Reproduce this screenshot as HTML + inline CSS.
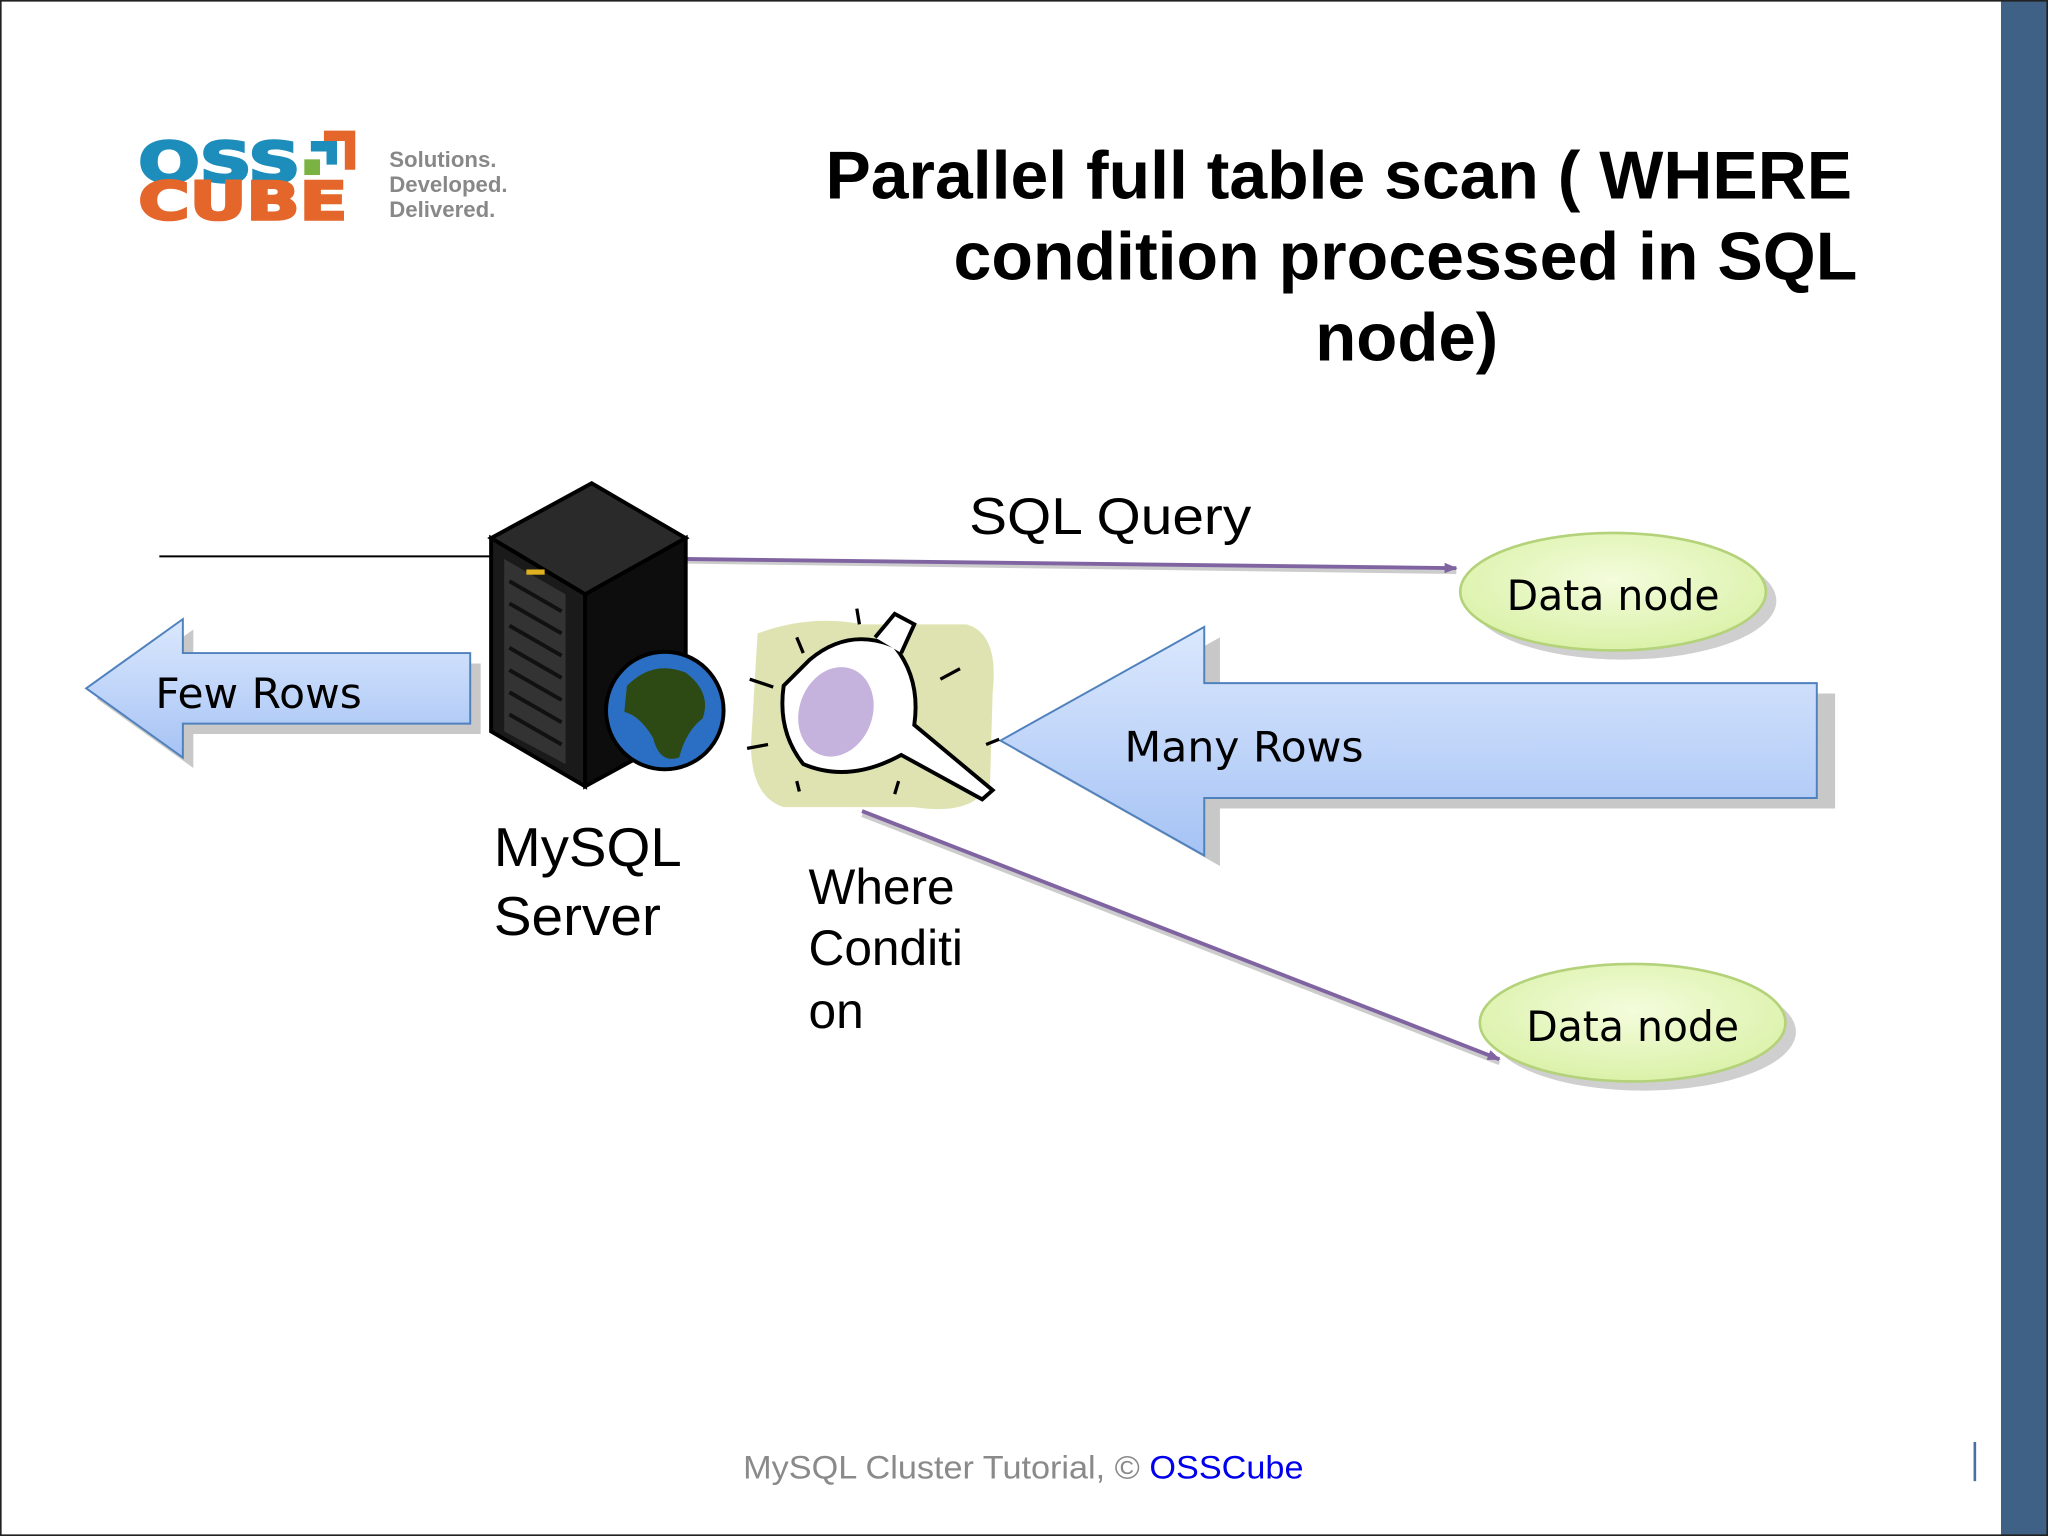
<!DOCTYPE html>
<html><head><meta charset="utf-8"><style>html,body{margin:0;padding:0;background:#fff}svg{display:block}</style></head><body>
<svg width="2048" height="1536" viewBox="0 0 1568 1176" xmlns="http://www.w3.org/2000/svg" font-family="Liberation Sans, sans-serif">
<defs>
<linearGradient id="bl" x1="0" y1="0" x2="0" y2="1"><stop offset="0" stop-color="#dbe8fd"/><stop offset="1" stop-color="#a6c3f5"/></linearGradient>
<radialGradient id="gr" cx="0.5" cy="0.4" r="0.7"><stop offset="0" stop-color="#f4fcdc"/><stop offset="1" stop-color="#d6f0a0"/></radialGradient>
<marker id="ah" markerWidth="10" markerHeight="8" refX="9" refY="4" orient="auto" markerUnits="userSpaceOnUse"><path d="M0,0 L10,4 L0,8 z" fill="#8064a2"/></marker>
</defs>
<rect x="0" y="0" width="1568" height="1176" fill="#fff"/>
<rect x="1532" y="0" width="36" height="1176" fill="#3f6186"/>
<rect x="0.5" y="0.5" width="1567" height="1175" fill="none" stroke="#222" stroke-width="1.5"/>
<!-- logo -->
<g font-family="DejaVu Sans, sans-serif" font-weight="bold">
<text x="106" y="139" font-size="42" fill="#1d8dbb" textLength="124" lengthAdjust="spacingAndGlyphs" stroke="#1d8dbb" stroke-width="2">OSS</text>
<text x="106" y="168" font-size="40" fill="#e5662a" textLength="160" lengthAdjust="spacingAndGlyphs" stroke="#e5662a" stroke-width="2">CUBE</text>
</g>
<rect x="233" y="122" width="12" height="12" fill="#7bb342"/>
<path d="M238 108 h20 v18 h-8 v-10 h-12z" fill="#1d8dbb"/>
<path d="M248 100 h24 v30 h-8 v-22 h-16z" fill="#e5662a"/>
<g font-size="17" fill="#888" font-weight="bold"><text x="298" y="128">Solutions.</text><text x="298" y="147">Developed.</text><text x="298" y="166">Delivered.</text></g>
<!-- title -->
<g font-size="52" font-weight="bold" fill="#000">
<text x="632" y="152" textLength="786" lengthAdjust="spacingAndGlyphs">Parallel full table scan ( WHERE</text>
<text x="730" y="214" textLength="692" lengthAdjust="spacingAndGlyphs">condition processed in SQL</text>
<text x="1007" y="276" textLength="140" lengthAdjust="spacingAndGlyphs">node)</text>
</g>
<!-- lines -->
<line x1="122" y1="426" x2="380" y2="426" stroke="#000" stroke-width="1.5"/>
<line x1="525" y1="430" x2="1115" y2="438" stroke="#ccc" stroke-width="3"/>
<line x1="525" y1="428" x2="1115" y2="435" stroke="#8064a2" stroke-width="3" marker-end="url(#ah)"/>
<line x1="660" y1="624" x2="1148" y2="814" stroke="#ccc" stroke-width="3"/>
<line x1="660" y1="621" x2="1148" y2="811" stroke="#8064a2" stroke-width="3" marker-end="url(#ah)"/>
<!-- Few rows arrow -->
<polygon points="74,535 148,482 148,508 368,508 368,562 148,562 148,588" fill="#c8c8c8"/>
<polygon points="66,527 140,474 140,500 360,500 360,554 140,554 140,580" fill="url(#bl)" stroke="#4f81bd" stroke-width="1.5"/>
<text x="119" y="542" font-family="DejaVu Sans, sans-serif" font-size="32" fill="#000" textLength="158" lengthAdjust="spacingAndGlyphs">Few Rows</text>
<!-- Many rows arrow -->
<polygon points="778,575 934,488 934,531 1405,531 1405,619 934,619 934,663" fill="#c8c8c8"/>
<polygon points="766,567 922,480 922,523 1391,523 1391,611 922,611 922,655" fill="url(#bl)" stroke="#4f81bd" stroke-width="1.5"/>
<text x="861" y="583" font-family="DejaVu Sans, sans-serif" font-size="32" fill="#000" textLength="183" lengthAdjust="spacingAndGlyphs">Many Rows</text>
<!-- data nodes -->
<ellipse cx="1243" cy="460" rx="117" ry="45" fill="#cfcfcf"/>
<ellipse cx="1235" cy="453" rx="117" ry="45" fill="url(#gr)" stroke="#b3d27a" stroke-width="2"/>
<text x="1235" y="467" text-anchor="middle" font-family="DejaVu Sans, sans-serif" font-size="32" textLength="163" lengthAdjust="spacingAndGlyphs">Data node</text>
<ellipse cx="1258" cy="790" rx="117" ry="45" fill="#cfcfcf"/>
<ellipse cx="1250" cy="783" rx="117" ry="45" fill="url(#gr)" stroke="#b3d27a" stroke-width="2"/>
<text x="1250" y="797" text-anchor="middle" font-family="DejaVu Sans, sans-serif" font-size="32" textLength="163" lengthAdjust="spacingAndGlyphs">Data node</text>
<!-- server -->
<polygon points="376,412 453,370 525,412 448,455" fill="#2a2a2a" stroke="#000" stroke-width="3"/>
<polygon points="376,412 448,455 448,602 376,560" fill="#1a1a1a" stroke="#000" stroke-width="3"/>
<polygon points="448,455 525,412 525,560 448,602" fill="#0d0d0d" stroke="#000" stroke-width="3"/>
<polygon points="386,428 433,455 433,585 386,560" fill="#333"/>
<g stroke="#111" stroke-width="3">
<line x1="390" y1="445" x2="430" y2="468"/><line x1="390" y1="462" x2="430" y2="485"/><line x1="390" y1="479" x2="430" y2="502"/><line x1="390" y1="496" x2="430" y2="519"/><line x1="390" y1="513" x2="430" y2="536"/><line x1="390" y1="530" x2="430" y2="553"/><line x1="390" y1="547" x2="430" y2="570"/>
</g>
<rect x="403" y="436" width="14" height="4" fill="#e0b020"/>
<circle cx="509" cy="544" r="45" fill="#2a6fc4" stroke="#000" stroke-width="3"/>
<path d="M480 525 Q500 505 525 515 Q545 530 538 550 Q525 560 520 580 Q505 585 500 565 Q490 548 478 545 Z" fill="#2e4a14"/>
<!-- funnel clipart -->
<path d="M580 485 Q620 470 660 478 L740 478 Q765 485 760 530 L758 600 Q745 625 700 618 L600 618 Q575 610 575 570 Z" fill="#dfe3b2"/>
<path d="M620 505 Q650 480 685 495 Q705 520 700 555 L760 605 L752 612 L690 578 Q650 600 615 585 Q595 560 600 525 Z" fill="#fff" stroke="#000" stroke-width="3"/>
<ellipse cx="640" cy="545" rx="28" ry="35" fill="#c6b3dd" transform="rotate(20 640 545)"/>
<path d="M670 488 L685 470 L700 478 L690 500" fill="#fff" stroke="#000" stroke-width="3"/>
<g stroke="#000" stroke-width="2.5">
<line x1="610" y1="488" x2="615" y2="500"/><line x1="656" y1="466" x2="658" y2="478"/><line x1="720" y1="520" x2="735" y2="512"/><line x1="574" y1="520" x2="592" y2="526"/><line x1="572" y1="573" x2="588" y2="570"/><line x1="610" y1="598" x2="612" y2="606"/><line x1="688" y1="598" x2="685" y2="608"/><line x1="755" y1="570" x2="765" y2="566"/>
</g>
<!-- labels -->
<text x="742" y="409" font-size="40" textLength="216" lengthAdjust="spacingAndGlyphs">SQL Query</text>
<g font-size="42"><text x="378" y="663" textLength="144" lengthAdjust="spacingAndGlyphs">MySQL</text><text x="378" y="716" textLength="128" lengthAdjust="spacingAndGlyphs">Server</text></g>
<g font-size="38"><text x="619" y="692">Where</text><text x="619" y="739">Conditi</text><text x="619" y="787">on</text></g>
<text x="569" y="1132" font-size="25" fill="#8a8a8a" textLength="429" lengthAdjust="spacingAndGlyphs">MySQL Cluster Tutorial, © <tspan fill="#0000ee">OSSCube</tspan></text>
<line x1="1512" y1="1104" x2="1512" y2="1134" stroke="#4a6fa5" stroke-width="2"/>
</svg>
</body></html>
